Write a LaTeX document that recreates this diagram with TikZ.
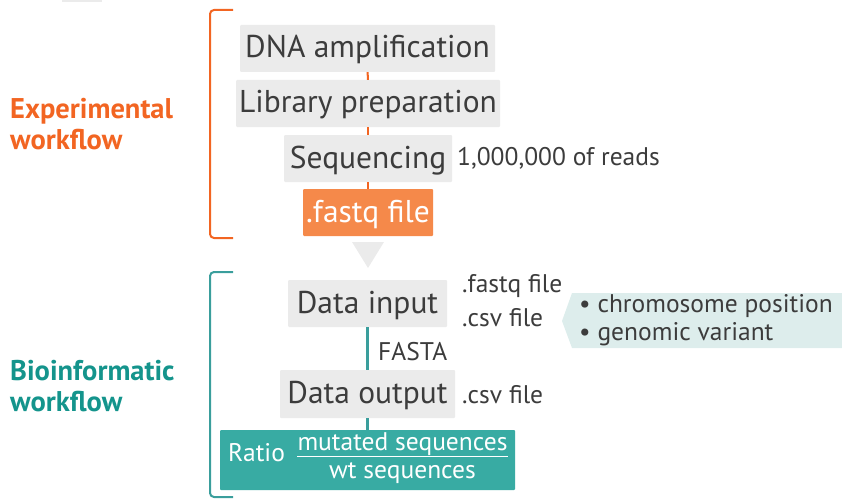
\documentclass[tikz,border=0pt]{standalone}
\usepackage{fontspec}
\setmainfont{PT Sans}
\definecolor{boxgray}{HTML}{EBEBEB}
\definecolor{txtgray}{HTML}{3C3C3C}
\definecolor{orangeline}{HTML}{F26522}
\definecolor{orangebox}{HTML}{F5894A}
\definecolor{tealtxt}{HTML}{14948C}
\definecolor{tealbox}{HTML}{38ABA3}
\definecolor{tealline}{HTML}{3A9E9C}
\definecolor{calloutbg}{HTML}{DDEDEC}
\begin{document}
\begin{tikzpicture}[x=1pt,y=-1pt,
  stepbox/.style={fill=boxgray,rounded corners=1pt,inner sep=0pt,minimum height=47pt,
    text height=24pt,text depth=5pt,
    text=txtgray,font=\fontsize{31.5}{34}\selectfont},
  filebox/.style={stepbox,fill=orangebox,text=white},
  note/.style={anchor=west,inner sep=0pt,text=txtgray,font=\fontsize{25.5}{28}\selectfont},
  sidelabel/.style={anchor=west,align=left,inner sep=0pt,font=\bfseries\fontsize{28.5}{30.5}\selectfont},
  olink/.style={draw=orangeline,line width=2pt},
  tlink/.style={draw=tealline,line width=2.5pt},
  bracket/.style={line width=2pt,rounded corners=4pt}]
\useasboundingbox (0,0) rectangle (842,500);
% small grey tab at the top edge
\fill[boxgray] (62,0) rectangle (102,2);

% experimental part
\draw[bracket,orangeline] (233,10) -- (210,10) -- (210,238) -- (233,238);
\node[sidelabel,text=orangeline] (exp) at (10,124) {Experimental\\workflow};

\node[stepbox,minimum width=255pt] (dna) at (367.5,48.5) {DNA amplification};
\node[stepbox,minimum width=264pt] (lib) at (368,103.5) {Library preparation};
\node[stepbox,minimum width=168pt] (seq) at (368,158.5) {Sequencing};
\node[filebox,minimum width=130pt] (fq) at (368,212.5) {.fastq file};
\draw[olink] (dna) -- (lib);
\draw[olink] (lib) -- (seq);
\draw[olink] (seq) -- (fq);
\node[note] (reads) at (457,158) {1,000,000 of reads};

% transition arrow
\fill[boxgray] (352,242) -- (384,242) -- (368,268) -- cycle;

% bioinformatic part
\draw[bracket,tealline] (233,272) -- (210,272) -- (210,497) -- (233,497);
\node[sidelabel,text=tealtxt] (bio) at (10,386) {Bioinformatic\\workflow};

\node[stepbox,minimum width=159pt] (din) at (367.5,303.5) {Data input};
\node[stepbox,minimum width=175pt,minimum height=48pt] (dout) at (367.5,394) {Data output};
\node[fill=tealbox,rounded corners=1pt,inner sep=0pt,minimum width=295pt,minimum height=60pt] (ratio) at (367.5,460) {};
\draw[tlink] (din) -- (dout);
\draw[tlink] (dout) -- (ratio);

\node[note,text=white] (rlab) at (228,453) {Ratio};
\node[inner sep=0pt,text=white,font=\fontsize{25.5}{28}\selectfont] (mut) at (402.5,444) {mutated sequences};
\node[inner sep=0pt,text=white,font=\fontsize{25.5}{28}\selectfont] (wt) at (402.5,473) {wt sequences};
\draw[white,line width=1.2pt] ([yshift=-1pt]mut.south west) -- ([yshift=-1pt]mut.south east);

\node[note] (fasta) at (378,352) {FASTA};
\node[note] (fqin) at (462,286) {.fastq file};
\node[note] (csvin) at (462,318) {.csv file};
\node[note] (csvout) at (462,395) {.csv file};

% callout with extracted fields
\fill[calloutbg] (572,293) -- (842,293) -- (842,348) -- (572,348) -- (562,321) -- cycle;
\node[note] (chr) at (579,306) {\textbullet\ chromosome position};
\node[note] (gen) at (579,334) {\textbullet\ genomic variant};
\end{tikzpicture}
\end{document}
